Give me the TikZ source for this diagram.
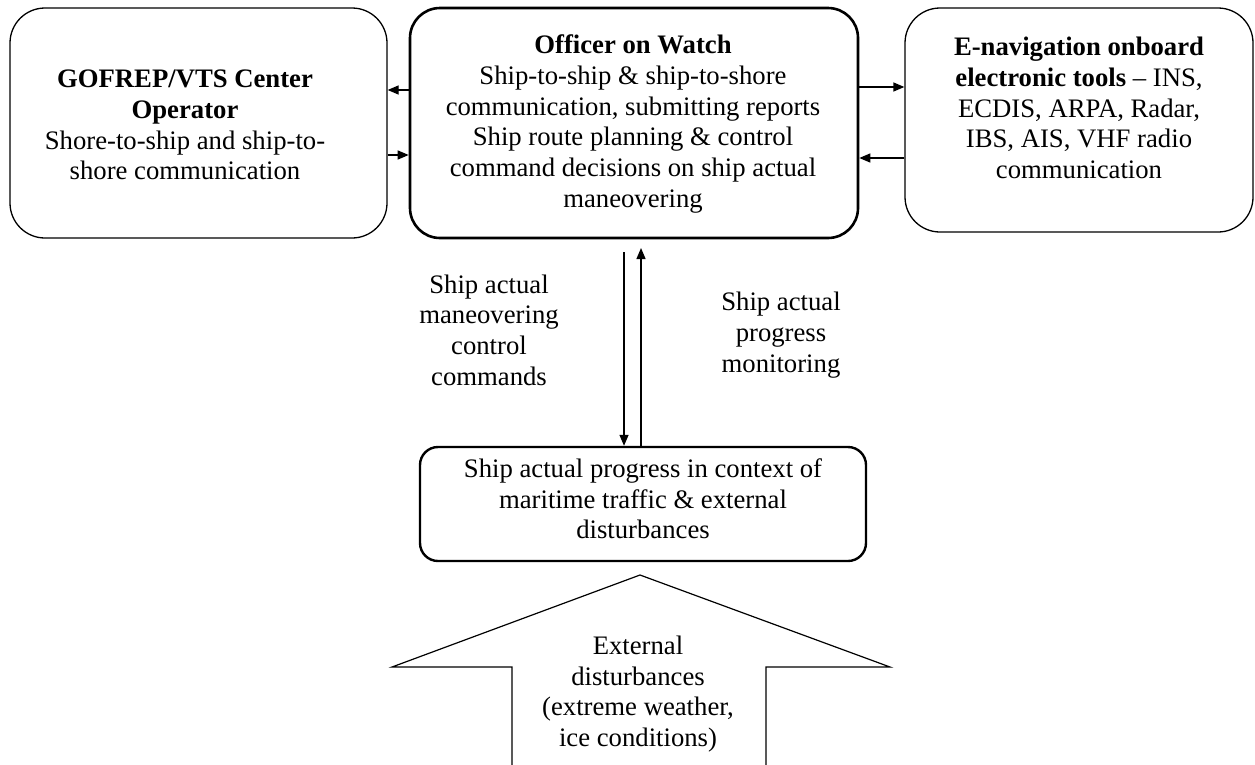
\documentclass[tikz,border=0pt]{standalone}
\usepackage{fontspec}
\setmainfont{Liberation Serif}
\usetikzlibrary{arrows.meta}
\begin{document}
\begin{tikzpicture}[x=1pt,y=-1pt,
  thinbox/.style={draw=black,line width=1.3pt,rounded corners=35pt,inner sep=0pt},
  thickbox/.style={draw=black,line width=2.6pt,rounded corners=30pt,inner sep=0pt},
  lowbox/.style={draw=black,line width=2.4pt,rounded corners=18pt,inner sep=0pt},
  txt/.style={align=center,inner sep=0pt,font=\fontsize{26.7}{30.7}\selectfont},
  conn/.style={line width=1.3pt,-{Triangle[length=11pt,width=9pt]}}]
\useasboundingbox (0,0) rectangle (1255,764);
\fill[white] (0,0) rectangle (1255,764);
% boxes
\node[thinbox,minimum width=377pt,minimum height=230pt] (gof) at (198.5,123) {};
\node[thickbox,minimum width=448pt,minimum height=230pt] (oow) at (634,123) {};
\node[thinbox,minimum width=348pt,minimum height=224pt] (env) at (1079,120) {};
\node[lowbox,minimum width=446pt,minimum height=114pt] (prog) at (643,504) {};
% texts
\node[txt] (goft) at (185,125) {\textbf{GOFREP/VTS Center}\\\textbf{Operator}\\Shore-to-ship and ship-to-\\shore communication};
\node[txt] (oowt) at (633,124) {\textbf{Officer on Watch}\\Ship-to-ship \& ship-to-shore\\communication, submitting reports\\Ship route planning \& control\\command decisions on ship actual\\maneovering};
\node[txt] (envt) at (1079,108) {\textbf{E-navigation onboard}\\\textbf{electronic tools} – INS,\\ECDIS, ARPA, Radar,\\IBS, AIS, VHF radio\\communication};
\node[txt] (progt) at (643,499) {Ship actual progress in context of\\maritime traffic \& external\\disturbances};
\node[txt] (cmdt) at (489,330) {Ship actual\\maneovering\\control\\commands};
\node[txt] (mont) at (781,335) {Ship actual\\progress\\monitoring};
% horizontal connectors
\draw[conn] (oow.west |- 0,90) -- (gof.east |- 0,90);
\draw[conn] (gof.east |- 0,155) -- (oow.west |- 0,155);
\draw[conn] (oow.east |- 0,87) -- (env.west |- 0,87);
\draw[conn] (env.west |- 0,158) -- (oow.east |- 0,158);
% vertical connectors
\coordinate (dstart) at (624,252);
\coordinate (uend) at (641,248);
\draw[conn] (dstart) -- (dstart |- prog.north);
\draw[conn] (uend |- prog.north) -- (uend);
% external disturbance block arrow
\draw[line width=1.2pt,line join=miter] (512,766) -- (512,667) -- (392,667) -- (640,575) -- (890,667) -- (766,667) -- (766,766);
\node[txt] (extt) at (638,694) {External\\disturbances\\(extreme weather,\\ice conditions)};
\end{tikzpicture}
\end{document}
